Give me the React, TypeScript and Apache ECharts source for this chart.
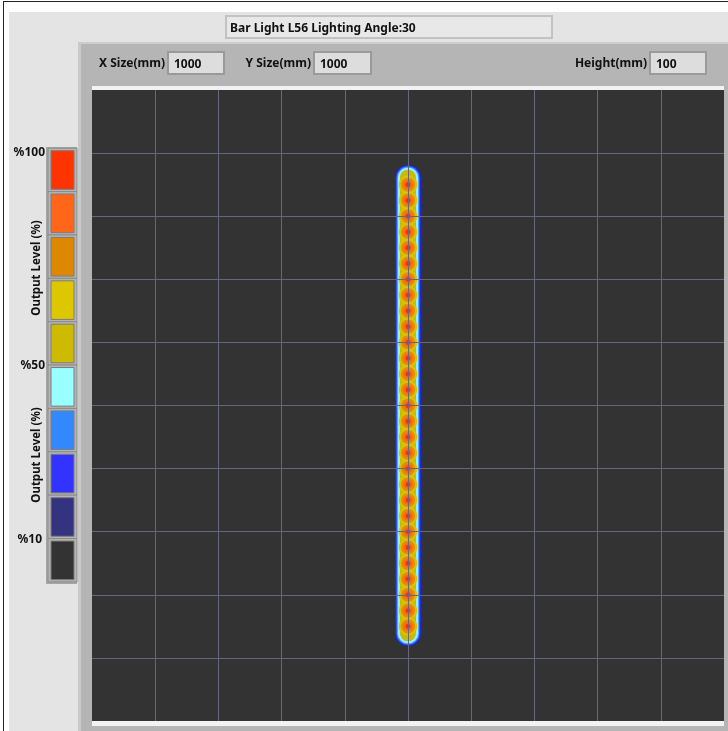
import React, { useEffect, useRef } from "react";
import * as echarts from "echarts";

// ---- data ----
const titleText = "Bar Light L56 Lighting Angle:30";
const fieldLabels = ["X Size(mm)", "Y Size(mm)", "Height(mm)"];
const fieldValues = ["1000", "1000", "100"];
const axisMin = 0;
const axisMax = 1000;
const axisStep = 100;
const ledX = 500;
const ledY = [
  150, 175, 200, 225, 250, 275, 300, 325, 350, 375, 400, 425, 450, 475, 500,
  525, 550, 575, 600, 625, 650, 675, 700, 725, 750, 775, 800, 825, 850,
];
const glowEnds = [139, 861];
const legendColors = [
  "#ff3300", "#ff661a", "#dd8800", "#ddc800", "#ccbb00",
  "#99ffff", "#3388ff", "#3333ff", "#333380", "#333333",
];
const legendLabels = ["%100", "%50", "%10"];
const legendLabelBox = [0, 5, 9];
const legendTitle = "Output Level (%)";

// ---- styles ----
const FONT = '"Noto Sans", "Open Sans", sans-serif';
const glowLayers = [
  { color: "#1f1fc8", width: 26 },
  { color: "#2a3cff", width: 24.5 },
  { color: "#3f8cff", width: 22.5 },
  { color: "#8ff0ff", width: 20.5 },
  { color: "#c9b900", width: 16 },
];
const spotLayers = [
  { color: "#d9c200", size: 18.5 },
  { color: "#e88c00", size: 14 },
  { color: "#ff6812", size: 9.5 },
  { color: "#ff2e00", size: 5 },
];

const PLOT = { x: 92, y: 90, w: 632, h: 631 };

function buildGraphic() {
  const g: any[] = [];
  g.push({ type: "rect", z: 0, shape: { x: 0, y: 0, width: 728, height: 731 }, style: { fill: "#ffffff" } });
  g.push({ type: "rect", z: 0, shape: { x: 3, y: 1, width: 725, height: 1 }, style: { fill: "#222" } });
  g.push({ type: "rect", z: 0, shape: { x: 3, y: 1, width: 1, height: 730 }, style: { fill: "#222" } });
  g.push({ type: "rect", z: 0, shape: { x: 9, y: 12, width: 719, height: 719 }, style: { fill: "#e4e4e4" } });
  // title box
  g.push({ type: "rect", z: 0, shape: { x: 226, y: 16, width: 326, height: 22 }, style: { fill: "#e8e8e8", stroke: "#c2c2c2", lineWidth: 2 } });
  g.push({ type: "text", z: 1, x: 230, y: 27.5, style: { text: titleText, font: `bold 12px ${FONT}`, fill: "#111", verticalAlign: "middle" } });
  // inner panel
  g.push({ type: "rect", z: 0, shape: { x: 78, y: 42, width: 650, height: 689 }, style: { fill: "#b5b5b5" } });
  g.push({ type: "rect", z: 0, shape: { x: 78, y: 42, width: 650, height: 2 }, style: { fill: "#cdcdcd" } });
  g.push({ type: "rect", z: 0, shape: { x: 78, y: 42, width: 3, height: 689 }, style: { fill: "#c9c9c9" } });
  // fields
  const labelRight = [165, 311, 647];
  const boxX = [168, 314, 650];
  const boxW = [56, 57, 56];
  fieldLabels.forEach((lab, i) => {
    g.push({ type: "text", z: 1, x: labelRight[i], y: 62, style: { text: lab, font: `bold 12px ${FONT}`, fill: "#111", align: "right", verticalAlign: "middle" } });
    g.push({ type: "rect", z: 0, shape: { x: boxX[i], y: 52, width: boxW[i], height: 22 }, style: { fill: "#dddddd", stroke: "#9a9a9a", lineWidth: 2 } });
    g.push({ type: "text", z: 1, x: boxX[i] + 6, y: 63.5, style: { text: fieldValues[i], font: `bold 12px ${FONT}`, fill: "#111", verticalAlign: "middle" } });
  });
  // plot background + white strips
  g.push({ type: "rect", z: 0, shape: { x: PLOT.x, y: PLOT.y, width: PLOT.w, height: PLOT.h }, style: { fill: "#333333" } });
  g.push({ type: "rect", z: 0, shape: { x: PLOT.x, y: 86, width: PLOT.w, height: 4 }, style: { fill: "#f2f2f2" } });
  g.push({ type: "rect", z: 0, shape: { x: PLOT.x, y: 721, width: PLOT.w, height: 5 }, style: { fill: "#f2f2f2" } });
  // legend
  const top0 = 150.7;
  const step = 43.37;
  g.push({ type: "rect", z: 0, shape: { x: 46, y: 147, width: 31, height: 437 }, style: { fill: "#a6a6a6" } });
  legendColors.forEach((c, i) => {
    const t = top0 + i * step;
    g.push({ type: "rect", z: 0, shape: { x: 48, y: t - 2.5, width: 29, height: 43.4 }, style: { fill: "#b4b4b4", stroke: "#8c8c8c", lineWidth: 1 } });
    g.push({ type: "rect", z: 1, shape: { x: 51, y: t, width: 23, height: 38.6 }, style: { fill: c, stroke: "#7c7c7c", lineWidth: 1 } });
  });
  const labelRightX = [45, 45, 42];
  const labelDy = [1, -3.5, -3];
  legendLabels.forEach((lab, i) => {
    const t = top0 + legendLabelBox[i] * step + labelDy[i];
    g.push({ type: "text", z: 1, x: labelRightX[i], y: t, style: { text: lab, font: `bold 12px ${FONT}`, fill: "#111", align: "right", verticalAlign: "middle" } });
  });
  [268, 455].forEach((cy) => {
    g.push({
      type: "text", z: 1, x: 35.5, y: cy, rotation: Math.PI / 2,
      style: {
        text: legendTitle,
        font: `bold 11.5px ${FONT}`,
        fill: "#111",
        align: "center", verticalAlign: "middle",
      },
    });
  });
  return g;
}

export default function App() {
  const ref = useRef<HTMLDivElement>(null);
  useEffect(() => {
    if (!ref.current) return;
    const chart = echarts.init(ref.current, undefined, { renderer: "svg" });
    const ledPoints = ledY.map((y) => [ledX, y]);
    const glowPoints = glowEnds.map((y) => [ledX, y]);
    const axisCommon = {
      type: "value" as const,
      min: axisMin,
      max: axisMax,
      interval: axisStep,
      z: 5,
      axisLine: { show: false },
      axisTick: { show: false },
      axisLabel: { show: false },
      splitLine: { show: true, showMinLine: false, showMaxLine: false, lineStyle: { color: "#66667e", width: 1 } },
    };
    chart.setOption({
      animation: false,
      backgroundColor: "transparent",
      graphic: buildGraphic(),
      grid: { left: PLOT.x, top: PLOT.y, width: PLOT.w, height: PLOT.h, show: false },
      xAxis: axisCommon,
      yAxis: axisCommon,
      series: [
        ...glowLayers.map((l) => ({
          type: "line",
          data: glowPoints,
          symbol: "none",
          silent: true,
          z: 2,
          lineStyle: { color: l.color, width: l.width, cap: "round" },
        })),
        ...spotLayers.map((s) => ({
          type: "scatter",
          data: ledPoints,
          symbolSize: s.size,
          silent: true,
          z: 2,
          itemStyle: { color: s.color, opacity: 1 },
        })),
      ],
    });
    return () => chart.dispose();
  }, []);
  return (
    <div
      ref={ref}
      style={{ position: "fixed", left: 0, top: 0, width: 728, height: 731 }}
    />
  );
}
